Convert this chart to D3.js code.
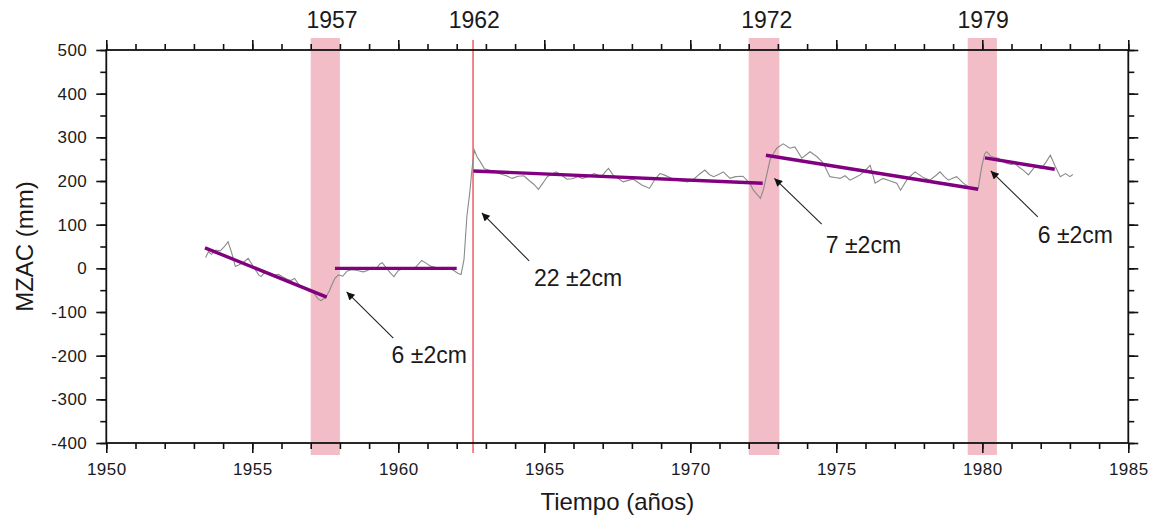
<!DOCTYPE html>
<html><head><meta charset="utf-8">
<script src="https://cdn.jsdelivr.net/npm/d3@7"></script>
<style>
body{margin:0;background:#fff}
svg{display:block}
text{font-family:"Liberation Sans",Arial,sans-serif;fill:#1a1a1a}
</style>
</head><body><svg id="c" width="1154" height="520"></svg>
<script>
// ---- data ----
const grayYears = [1953.40,1953.50,1953.60,1953.75,1953.90,1954.05,1954.17,1954.30,1954.42,1954.55,1954.70,1954.86,1955.00,1955.12,1955.22,1955.30,1955.45,1955.60,1955.75,1955.90,1956.05,1956.20,1956.32,1956.45,1956.60,1956.75,1956.90,1957.00,1957.12,1957.25,1957.35,1957.45,1957.55,1957.65,1957.72,1957.83,1957.95,1958.10,1958.25,1958.40,1958.60,1958.80,1958.95,1959.10,1959.25,1959.37,1959.45,1959.60,1959.75,1959.85,1960.00,1960.20,1960.40,1960.60,1960.80,1960.95,1961.10,1961.30,1961.50,1961.70,1961.90,1962.05,1962.15,1962.25,1962.35,1962.45,1962.52,1962.60,1962.70,1962.80,1962.95,1963.10,1963.30,1963.50,1963.70,1963.90,1964.10,1964.30,1964.50,1964.65,1964.80,1964.95,1965.10,1965.25,1965.40,1965.60,1965.77,1965.95,1966.15,1966.30,1966.50,1966.70,1966.85,1966.96,1967.10,1967.20,1967.35,1967.55,1967.70,1967.90,1968.05,1968.20,1968.34,1968.50,1968.60,1968.80,1968.96,1969.10,1969.30,1969.50,1969.70,1969.90,1970.10,1970.30,1970.50,1970.65,1970.80,1971.00,1971.13,1971.36,1971.55,1971.80,1972.04,1972.16,1972.30,1972.40,1972.50,1972.62,1972.73,1972.84,1972.96,1973.18,1973.41,1973.58,1973.82,1974.10,1974.33,1974.50,1974.61,1974.78,1974.95,1975.13,1975.30,1975.47,1975.65,1975.82,1976.00,1976.16,1976.33,1976.45,1976.60,1976.85,1977.07,1977.20,1977.41,1977.55,1977.70,1977.93,1978.05,1978.20,1978.40,1978.55,1978.70,1978.84,1979.00,1979.12,1979.35,1979.50,1979.64,1979.86,1979.98,1980.08,1980.15,1980.30,1980.55,1980.70,1980.84,1981.00,1981.12,1981.25,1981.40,1981.58,1981.80,1982.03,1982.20,1982.33,1982.50,1982.67,1982.85,1983.00,1983.10];
const grayValues = [25,38,32,42,40,50,61,34,4,8,14,23,8,-5,-15,-19,-8,-10,-16,-14,-20,-25,-28,-23,-38,-42,-48,-50,-58,-70,-74,-69,-62,-50,-38,-23,-15,-18,-6,-3,-5,-8,-5,2,0,10,13,0,-12,-19,-5,0,-2,3,18,12,5,2,-3,2,-5,-12,-14,20,120,175,225,271,255,245,228,225,222,216,212,206,211,212,200,192,181,195,210,215,221,213,204,205,210,206,210,217,213,210,222,229,214,205,198,202,204,197,191,186,183,205,217,214,208,202,200,198,203,215,225,215,210,216,221,206,210,211,195,179,168,160,179,215,248,262,275,285,275,278,252,267,256,245,233,210,208,206,212,202,208,214,225,236,195,200,206,200,195,179,202,212,221,210,206,202,212,221,210,202,207,210,195,188,183,183,233,262,267,256,252,245,240,238,240,232,225,214,233,229,245,259,233,210,217,210,215];

const trendStartYears  = [1953.38, 1957.83, 1962.57, 1972.59, 1980.09];
const trendStartValues = [47, 0, 223, 259, 253];
const trendEndYears    = [1957.55, 1962.00, 1972.48, 1979.86, 1982.48];
const trendEndValues   = [-66, 0, 195, 181, 227];

const bandStartYears = [1957.0, 1972.0, 1979.5];
const bandEndYears   = [1958.0, 1973.05, 1980.5];
const eventLineYears = [1962.56];
const eventLabels     = ["1957", "1962", "1972", "1979"];
const eventLabelYears = [1957.73, 1962.6, 1972.62, 1980.03];

const annotationTexts      = ["6 \u00b12cm", "22 \u00b12cm", "7 \u00b12cm", "6 \u00b12cm"];
const arrowHeadYears       = [1958.23, 1962.86, 1972.88, 1980.29];
const arrowHeadValues      = [-54, 127, 206, 223];
const arrowTailYears       = [1959.83, 1964.48, 1974.50, 1981.90];
const arrowTailValues      = [-160, 17, 101, 118];
const annotationTextYears  = [1959.77, 1964.65, 1974.64, 1981.90];
const annotationTextValues = [-216, -40, 34, 57];

const xMajorTicks = [1950, 1955, 1960, 1965, 1970, 1975, 1980, 1985];
const xMinorTicks = d3.range(1950, 1986, 1);
const yMajorTicks = [-400, -300, -200, -100, 0, 100, 200, 300, 400, 500];
const yMinorTicks = d3.range(-400, 501, 50);
const xTitle = "Tiempo (a\u00f1os)";
const yTitle = "MZAC (mm)";

// ---- layout ----
const L = 106.3, R = 1128.3, T = 50, B = 443;
const svg = d3.select("#c");
const x = d3.scaleLinear().domain([1950, 1985]).range([L, R]);
const y = d3.scaleLinear().domain([-400, 500]).range([B, T]);
const ext = 12;

// bands
svg.append("g").selectAll("rect").data(bandStartYears).join("rect")
  .attr("x", (d) => x(d)).attr("width", (d, i) => x(bandEndYears[i]) - x(d))
  .attr("y", T - ext).attr("height", (B - T) + 2 * ext)
  .attr("fill", "#f2bdc7");

// red event line
svg.append("g").selectAll("line").data(eventLineYears).join("line")
  .attr("x1", (d) => x(d)).attr("x2", (d) => x(d))
  .attr("y1", T - 10).attr("y2", B + 10)
  .attr("stroke", "#f0404e").attr("stroke-width", 1.3);

// gray series
const gdata = grayYears.map((d, i) => [d, grayValues[i]]);
svg.append("path").datum(gdata)
  .attr("d", d3.line().x((d) => x(d[0])).y((d) => y(d[1])))
  .attr("fill", "none").attr("stroke", "#8a8a8a").attr("stroke-width", 1.1);

// purple trends
svg.append("g").selectAll("line").data(trendStartYears).join("line")
  .attr("x1", (d) => x(d)).attr("y1", (d, i) => y(trendStartValues[i]))
  .attr("x2", (d, i) => x(trendEndYears[i])).attr("y2", (d, i) => y(trendEndValues[i]))
  .attr("stroke", "#800080").attr("stroke-width", 3.4);

// axes
const fs = "17px";
const plainInt = (d) => String(d);
function styleAxis(g) {
  g.select(".domain").remove();
  g.selectAll("line").attr("stroke", "#111").attr("stroke-width", 1.6);
  g.selectAll("text").style("font-size", fs).style("letter-spacing", "0.5px")
    .attr("fill", "#1a1a1a").style("font-family", '"Liberation Sans", Arial, sans-serif');
}
svg.append("g").attr("transform", `translate(0,${B})`)
  .call(d3.axisBottom(x).tickValues(xMinorTicks).tickSize(6).tickFormat(""))
  .call(styleAxis);
svg.append("g").attr("transform", `translate(0,${B})`)
  .call(d3.axisBottom(x).tickValues(xMajorTicks).tickSize(10).tickPadding(10).tickFormat(plainInt))
  .call(styleAxis);
svg.append("g").attr("transform", `translate(0,${T})`)
  .call(d3.axisTop(x).tickValues(xMinorTicks).tickSize(6).tickFormat(""))
  .call(styleAxis);
svg.append("g").attr("transform", `translate(0,${T})`)
  .call(d3.axisTop(x).tickValues(xMajorTicks).tickSize(10).tickFormat(""))
  .call(styleAxis);
svg.append("g").attr("transform", `translate(${L},0)`)
  .call(d3.axisLeft(y).tickValues(yMinorTicks).tickSize(6).tickFormat(""))
  .call(styleAxis);
svg.append("g").attr("transform", `translate(${L},0)`)
  .call(d3.axisLeft(y).tickValues(yMajorTicks).tickSize(10).tickPadding(9).tickFormat(plainInt))
  .call(styleAxis);
svg.append("g").attr("transform", `translate(${R},0)`)
  .call(d3.axisRight(y).tickValues(yMinorTicks).tickSize(6).tickFormat(""))
  .call(styleAxis);
svg.append("g").attr("transform", `translate(${R},0)`)
  .call(d3.axisRight(y).tickValues(yMajorTicks).tickSize(10).tickFormat(""))
  .call(styleAxis);

// frame
svg.append("rect").attr("x", L).attr("y", T).attr("width", R - L).attr("height", B - T)
  .attr("fill", "none").attr("stroke", "#111").attr("stroke-width", 1.8);

// titles
svg.append("text").attr("x", (L + R) / 2).attr("y", 510).attr("text-anchor", "middle")
  .style("font-size", "24px").text(xTitle);
svg.append("text").attr("transform", `translate(33,${(T + B) / 2}) rotate(-90)`)
  .attr("text-anchor", "middle").style("font-size", "24px").text(yTitle);

// event labels
svg.append("g").selectAll("text").data(eventLabels).join("text")
  .attr("x", (d, i) => x(eventLabelYears[i])).attr("y", 28)
  .attr("text-anchor", "middle").style("font-size", "23px").text((d) => d);

// arrows
const defs = svg.append("defs");
defs.append("marker").attr("id", "ah").attr("viewBox", "0 0 10 10")
  .attr("refX", 10).attr("refY", 5).attr("markerWidth", 11).attr("markerHeight", 8)
  .attr("markerUnits", "userSpaceOnUse").attr("orient", "auto")
  .append("path").attr("d", "M0,0 L10,5 L0,10 Z").attr("fill", "#111");
svg.append("g").selectAll("line").data(arrowTailYears).join("line")
  .attr("x1", (d) => x(d)).attr("y1", (d, i) => y(arrowTailValues[i]))
  .attr("x2", (d, i) => x(arrowHeadYears[i])).attr("y2", (d, i) => y(arrowHeadValues[i]))
  .attr("stroke", "#222").attr("stroke-width", 1.1).attr("marker-end", "url(#ah)");

svg.append("g").selectAll("text").data(annotationTexts).join("text")
  .attr("x", (d, i) => x(annotationTextYears[i])).attr("y", (d, i) => y(annotationTextValues[i]))
  .style("font-size", "23px").text((d) => d);
</script>
</body></html>
